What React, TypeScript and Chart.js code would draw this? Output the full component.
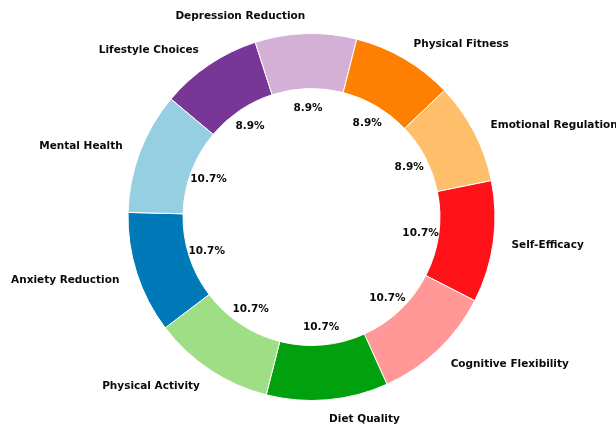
import React, { useEffect, useRef } from "react";
import { Chart, registerables } from "chart.js";

Chart.register(...registerables);

// Slices listed counter-clockwise starting from "Mental Health"
const categories = [
  "Mental Health",
  "Anxiety Reduction",
  "Physical Activity",
  "Diet Quality",
  "Cognitive Flexibility",
  "Self-Efficacy",
  "Emotional Regulation",
  "Physical Fitness",
  "Depression Reduction",
  "Lifestyle Choices",
];
const values = [6, 6, 6, 6, 6, 6, 5, 5, 5, 5];
const colors = [
  "#96cee2",
  "#0079b8",
  "#9edf86",
  "#00a00e",
  "#ff9897",
  "#ff1217",
  "#ffbe6a",
  "#ff7f00",
  "#d4afd6",
  "#783797",
];

const FONT = "bold 10.5px 'DejaVu Sans', sans-serif";
const TEXT = "#0a0a0a";

// Chart.js draws clockwise, so feed the slices in reverse order
const drawLabels = [...categories].reverse();
const drawValues = [...values].reverse();
const drawColors = [...colors].reverse();
const total = values.reduce((a, b) => a + b, 0);

const labelPlugin = {
  id: "sliceLabels",
  afterDatasetsDraw(chart: any) {
    const ctx = chart.ctx;
    const meta = chart.getDatasetMeta(0);
    ctx.save();
    ctx.font = FONT;
    ctx.fillStyle = TEXT;
    ctx.textBaseline = "middle";
    meta.data.forEach((arc: any, i: number) => {
      const mid = (arc.startAngle + arc.endAngle) / 2;
      const R = arc.outerRadius;
      const cx = arc.x;
      const cy = arc.y + 1;
      const c = Math.cos(mid);
      const s = Math.sin(mid);
      // category name outside the ring
      ctx.textAlign = c < 0 ? "right" : "left";
      ctx.fillText(drawLabels[i], cx + c * R * 1.1, cy + s * R * 1.1);
      // share inside the hole
      ctx.textAlign = "center";
      const pct = ((drawValues[i] / total) * 100).toFixed(1) + "%";
      ctx.fillText(pct, cx + c * R * 0.6, cy + s * R * 0.6);
    });
    ctx.restore();
  },
};

export default function App() {
  const ref = useRef<HTMLCanvasElement>(null);
  useEffect(() => {
    const chart = new Chart(ref.current!, {
      type: "doughnut",
      data: {
        labels: drawLabels,
        datasets: [
          {
            data: drawValues,
            backgroundColor: drawColors,
            borderColor: "#ffffff",
            borderWidth: 1,
            hoverOffset: 0,
          },
        ],
      },
      options: {
        responsive: false,
        animation: false,
        rotation: -50,
        radius: 183.5,
        cutout: "70%",
        layout: { padding: { left: 17, right: 10, top: 19, bottom: 10 } },
        plugins: {
          legend: { display: false },
          tooltip: { enabled: false },
        },
        events: [],
      },
      plugins: [labelPlugin],
    });
    return () => chart.destroy();
  }, []);
  return (
    <div style={{ position: "fixed", left: 0, top: 0, width: 616, height: 425, background: "#fff" }}>
      <canvas ref={ref} width={616} height={425} style={{ width: 616, height: 425, display: "block" }} />
    </div>
  );
}
